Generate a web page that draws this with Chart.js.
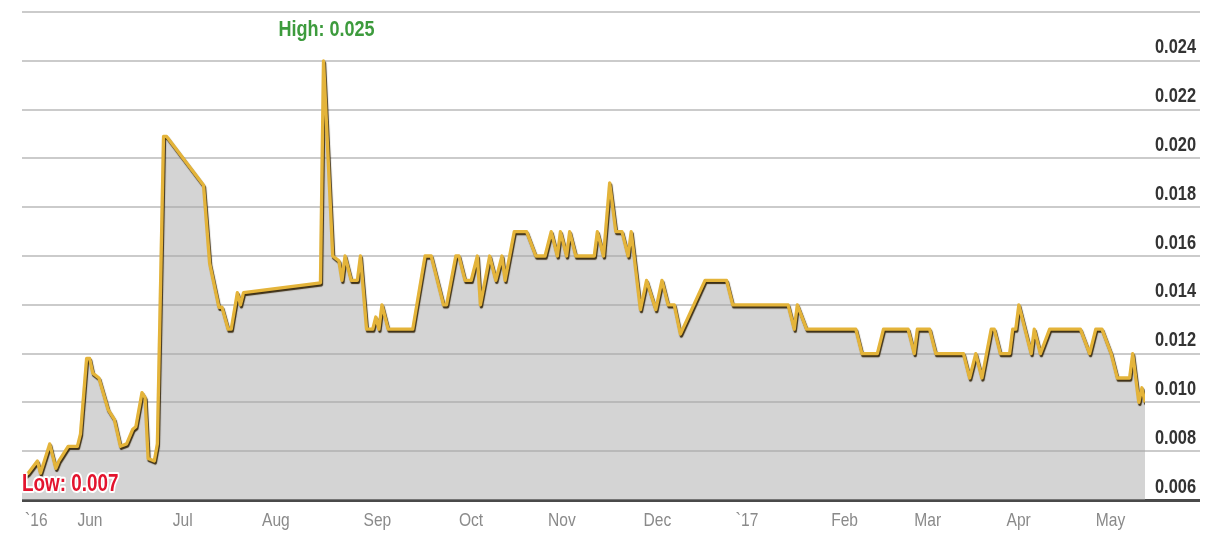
<!DOCTYPE html>
<html>
<head>
<meta charset="utf-8">
<script src="https://cdn.jsdelivr.net/npm/chart.js@4.4.1/dist/chart.umd.min.js"></script>
<style>
html, body { margin: 0; padding: 0; background: #fff; overflow: hidden; }
#wrap { width: 1215px; height: 543px; }
canvas { display: block; }
</style>
</head>
<body>
<div id="wrap"><canvas id="price-chart" width="1215" height="543"></canvas></div>
<script>
// days counted from 1 May 2016
var days = [15, 17, 20, 21, 24, 26, 27, 28, 30, 33, 34, 36, 37, 38, 40, 43, 45, 47, 49, 51,
    52, 54, 55, 56, 58, 59, 61, 62, 74, 76, 79, 80, 82, 83, 85, 86, 87, 112, 113, 116,
    118, 119, 120, 122, 124, 125, 127, 129, 130, 131, 132, 134, 142, 146, 148, 152, 153, 156, 157, 159,
    161, 163, 164, 167, 169, 171, 172, 175, 179, 182, 185, 187, 189, 190, 192, 193, 195, 201, 202, 204,
    206, 208, 210, 212, 213, 216, 218, 221, 223, 225, 227, 229, 237, 244, 246, 264, 266, 267, 270, 286,
    288, 293, 295, 303, 305, 306, 310, 312, 321, 323, 325, 327, 330, 331, 333, 336, 337, 338, 339, 343,
    344, 346, 349, 359, 362, 364, 366, 369, 371, 375, 376, 378, 379, 380];
var prices = [0.0069, 0.0071, 0.0076, 0.0071, 0.0083, 0.0073, 0.0076, 0.0078, 0.0082, 0.0082, 0.0087, 0.0118, 0.0118, 0.0112, 0.0110, 0.0097, 0.0093, 0.0082, 0.0083, 0.0089,
    0.0090, 0.0104, 0.0102, 0.0077, 0.0076, 0.0083, 0.0209, 0.0209, 0.0189, 0.0157, 0.0139, 0.0139, 0.013, 0.013, 0.0145, 0.0140, 0.0145, 0.0149, 0.024, 0.016,
    0.0158, 0.015, 0.016, 0.015, 0.015, 0.016, 0.013, 0.013, 0.0135, 0.013, 0.014, 0.013, 0.013, 0.016, 0.016, 0.014, 0.014, 0.016, 0.016, 0.015,
    0.015, 0.016, 0.014, 0.016, 0.015, 0.016, 0.015, 0.017, 0.017, 0.016, 0.016, 0.017, 0.016, 0.017, 0.016, 0.017, 0.016, 0.016, 0.017, 0.016,
    0.019, 0.017, 0.017, 0.016, 0.017, 0.0138, 0.015, 0.0138, 0.015, 0.014, 0.014, 0.0128, 0.015, 0.015, 0.014, 0.014, 0.013, 0.014, 0.013, 0.013,
    0.012, 0.012, 0.013, 0.013, 0.012, 0.013, 0.013, 0.012, 0.012, 0.011, 0.012, 0.011, 0.013, 0.013, 0.012, 0.012, 0.013, 0.013, 0.014, 0.012,
    0.013, 0.012, 0.013, 0.013, 0.012, 0.013, 0.013, 0.012, 0.011, 0.011, 0.012, 0.010, 0.0106, 0.010];

var tickDays = [16, 33, 64, 93, 126, 157, 186, 217, 247, 278, 305, 335, 364];
var tickLabels = ['`16', 'Jun', 'Jul', 'Aug', 'Sep', 'Oct', 'Nov', 'Dec', '`17', 'Feb', 'Mar', 'Apr', 'May'];

var yMin = 0.006;
var yMax = 0.026;
var yStep = 0.002;

var highLabel = 'High: 0.025';
var lowLabel = 'Low: 0.007';

// no narrow face installed, so squeeze Liberation Sans by hand
const face = "'Liberation Sans', Arial, sans-serif";
const squeeze = 0.82;

var points = days.map(function (d, i) {
    return { x: d, y: prices[i] };
});

function isMin(v) {
    return Math.abs(v - yMin) < 1e-9;
}

// dark drop shadow under the gold line
const lineShadow = {
    id: 'lineShadow',
    beforeDatasetDraw: function (chart, args) {
        if (args.index !== 0) return;
        const ctx = chart.ctx;
        ctx.save();
        ctx.shadowColor = 'rgba(45, 30, 0, 0.9)';
        ctx.shadowOffsetX = 1;
        ctx.shadowOffsetY = 2;
        ctx.shadowBlur = 1;
    },
    afterDatasetDraw: function (chart, args) {
        if (args.index !== 0) return;
        chart.ctx.restore();
    }
};

// tick labels, drawn condensed
const axisText = {
    id: 'axisText',
    afterDraw: function (chart) {
        const ctx = chart.ctx;
        const x = chart.scales.x;
        const y = chart.scales.y;
        const area = chart.chartArea;
        ctx.save();
        ctx.scale(squeeze, 1);
        ctx.textBaseline = 'middle';
        ctx.textAlign = 'left';
        ctx.font = 'bold 20px ' + face;
        ctx.fillStyle = '#333';
        y.ticks.forEach(function (t) {
            if (t.value > yMax - 1e-9) return;
            ctx.fillText(t.value.toFixed(3), (area.right + 10) / squeeze, y.getPixelForValue(t.value) - 13);
        });
        ctx.font = '19px ' + face;
        ctx.fillStyle = '#8a8a8a';
        tickDays.forEach(function (d, i) {
            ctx.fillText(tickLabels[i], x.getPixelForValue(d) / squeeze, area.bottom + 21);
        });
        ctx.restore();
    }
};

const highLow = {
    id: 'highLow',
    afterDraw: function (chart) {
        const ctx = chart.ctx;
        const x = chart.scales.x;
        const y = chart.scales.y;
        var top = prices.indexOf(Math.max.apply(null, prices));
        ctx.save();
        ctx.scale(squeeze, 1);
        ctx.textBaseline = 'middle';
        ctx.font = 'bold 22px ' + face;
        ctx.textAlign = 'center';
        ctx.fillStyle = '#3d9b3d';
        ctx.fillText(highLabel, (x.getPixelForValue(days[top]) + 3) / squeeze, y.getPixelForValue(yMax) + 18);

        ctx.font = 'bold 23px ' + face;
        ctx.textAlign = 'left';
        ctx.lineJoin = 'round';
        ctx.lineWidth = 4;
        ctx.strokeStyle = '#fff';
        var lx = chart.chartArea.left / squeeze;
        var ly = y.getPixelForValue(0.00662);
        ctx.strokeText(lowLabel, lx, ly);
        ctx.fillStyle = '#e3142e';
        ctx.fillText(lowLabel, lx, ly);
        ctx.restore();
    }
};

const ctxPrice = document.getElementById('price-chart').getContext('2d');

var priceChart = new Chart(ctxPrice, {
    type: 'line',
    data: {
        datasets: [{
            label: 'line',
            data: points,
            fill: false,
            borderColor: '#e4b43a',
            borderWidth: 3.3,
            borderJoinStyle: 'round',
            pointRadius: 0,
            tension: 0
        }, {
            label: 'area',
            data: points,
            fill: 'start',
            backgroundColor: 'rgba(165, 165, 165, 0.48)',
            borderWidth: 0,
            pointRadius: 0,
            tension: 0
        }]
    },
    options: {
        responsive: false,
        animation: false,
        devicePixelRatio: 1,
        layout: {
            padding: { left: 22, right: 15, top: 12, bottom: 0 }
        },
        plugins: {
            legend: { display: false },
            tooltip: { enabled: false }
        },
        scales: {
            x: {
                type: 'linear',
                min: 15,
                max: 380,
                afterBuildTicks: function (scale) {
                    scale.ticks = tickDays.map(function (v) { return { value: v }; });
                },
                afterFit: function (scale) { scale.height = 43; },
                grid: { display: false, drawTicks: false },
                border: { display: false },
                ticks: { display: false }
            },
            y: {
                position: 'right',
                min: yMin,
                max: yMax,
                afterFit: function (scale) { scale.width = 55; },
                border: { display: false },
                grid: {
                    color: function (c) { return c.tick && isMin(c.tick.value) ? '#4a4a4a' : '#cbcbcb'; },
                    lineWidth: function (c) { return c.tick && isMin(c.tick.value) ? 3 : 2; },
                    tickLength: 55
                },
                ticks: {
                    display: false,
                    stepSize: yStep
                }
            }
        }
    },
    plugins: [lineShadow, axisText, highLow]
});
</script>
</body>
</html>
